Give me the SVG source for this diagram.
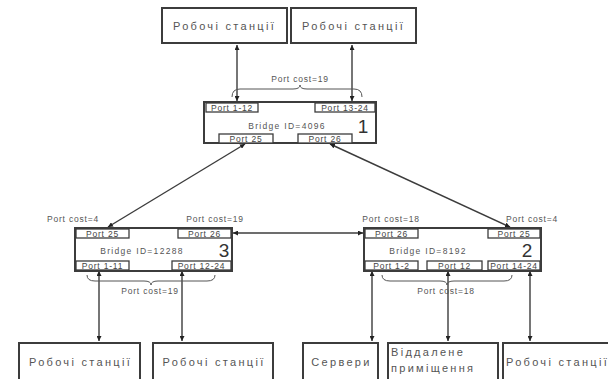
<svg xmlns="http://www.w3.org/2000/svg" width="608" height="379" viewBox="0 0 608 379">
  <style>
    .box { fill: #fff; stroke: #3c3c3c; stroke-width: 2; }
    .port { fill: #fff; stroke: #3c3c3c; stroke-width: 1.3; }
    .lbl { font-family: "Liberation Sans", Arial, sans-serif; font-size: 11px; letter-spacing: 2.3px; fill: #555; }
    .pt { font-family: "Liberation Sans", Arial, sans-serif; font-size: 8.5px; letter-spacing: 0.8px; fill: #444; text-anchor: middle; }
    .bid { font-family: "Liberation Sans", Arial, sans-serif; font-size: 8.5px; letter-spacing: 1.3px; fill: #555; text-anchor: middle; }
    .num { font-family: "Liberation Sans", Arial, sans-serif; font-size: 19px; fill: #333; text-anchor: middle; }
    .cost { font-family: "Liberation Sans", Arial, sans-serif; font-size: 8.5px; letter-spacing: 0.8px; fill: #555; text-anchor: middle; }
    .wire { fill: none; stroke: #3c3c3c; stroke-width: 1.4; marker-start: url(#ah); marker-end: url(#ah); }
    .brace { fill: none; stroke: #555; stroke-width: 1; }
  </style>
  <defs>
    <marker id="ah" viewBox="0 0 10 10" refX="10" refY="5" markerWidth="5" markerHeight="5" orient="auto-start-reverse" markerUnits="userSpaceOnUse">
      <path d="M0,0 L10,5 L0,10 z" fill="#222"/>
    </marker>
  </defs>

  <rect width="608" height="379" fill="#fff"/>

  <!-- connectors -->
  <g id="connectors">
    <line class="wire" x1="237" y1="45" x2="237" y2="101"/>
    <line class="wire" x1="352" y1="45" x2="352" y2="101"/>
    <line class="wire" x1="245" y1="144" x2="108" y2="227"/>
    <line class="wire" x1="330" y1="144" x2="510" y2="227"/>
    <line class="wire" x1="233" y1="233" x2="363" y2="233"/>
    <line class="wire" x1="99" y1="271" x2="99" y2="341"/>
    <line class="wire" x1="182" y1="271" x2="182" y2="341"/>
    <line class="wire" x1="372" y1="271" x2="372" y2="341"/>
    <line class="wire" x1="448" y1="271" x2="448" y2="341"/>
    <line class="wire" x1="530" y1="271" x2="530" y2="341"/>
  </g>

  <!-- port cost annotations -->
  <g id="costs">
    <path class="brace" d="M232,97 Q232,89 240,89 L293,89 Q300,89 300,85 Q300,89 307,89 L354,89 Q362,89 362,97"/>
    <text class="cost" x="300" y="82">Port cost=19</text>

    <path class="brace" d="M87,275 Q87,281 95,281 L144,281 Q151,281 151,285 Q151,281 158,281 L207,281 Q215,281 215,275"/>
    <text class="cost" x="150" y="294">Port cost=19</text>
    <text class="cost" x="73" y="222">Port cost=4</text>
    <text class="cost" x="215" y="222">Port cost=19</text>

    <path class="brace" d="M382,275 Q382,281 390,281 L440,281 Q447,281 447,285 Q447,281 454,281 L504,281 Q512,281 512,275"/>
    <text class="cost" x="446" y="294">Port cost=18</text>
    <text class="cost" x="391" y="222">Port cost=18</text>
    <text class="cost" x="532" y="222">Port cost=4</text>
  </g>

  <!-- workstation groups at the top -->
  <g id="ws-top-left">
    <rect class="box" x="162" y="8" width="125" height="35"/>
    <text class="lbl" x="224.5" y="30" text-anchor="middle">Робочі станції</text>
  </g>
  <g id="ws-top-right">
    <rect class="box" x="291" y="8" width="125" height="35"/>
    <text class="lbl" x="353.5" y="30" text-anchor="middle">Робочі станції</text>
  </g>

  <!-- bridge 1 (root) -->
  <g id="bridge-1">
    <rect class="box" x="204" y="102" width="172" height="41"/>
    <rect class="port" x="206" y="103" width="52" height="9"/>
    <text class="pt" x="232" y="110.5">Port 1-12</text>
    <rect class="port" x="315" y="103" width="60" height="9"/>
    <text class="pt" x="345" y="110.5">Port 13-24</text>
    <rect class="port" x="219" y="134" width="54" height="9"/>
    <text class="pt" x="246" y="141.5">Port 25</text>
    <rect class="port" x="298" y="134" width="54" height="9"/>
    <text class="pt" x="325" y="141.5">Port 26</text>
    <text class="bid" x="287" y="129">Bridge ID=4096</text>
    <text class="num" x="363" y="133">1</text>
  </g>

  <!-- bridge 3 -->
  <g id="bridge-3">
    <rect class="box" x="75" y="228" width="157" height="43"/>
    <rect class="port" x="76" y="229" width="53" height="9"/>
    <text class="pt" x="102.5" y="236.5">Port 25</text>
    <rect class="port" x="178" y="229" width="53" height="9"/>
    <text class="pt" x="204.5" y="236.5">Port 26</text>
    <rect class="port" x="76" y="261" width="53" height="9"/>
    <text class="pt" x="102.5" y="268.5">Port 1-11</text>
    <rect class="port" x="172" y="261" width="59" height="9"/>
    <text class="pt" x="201.5" y="268.5">Port 12-24</text>
    <text class="bid" x="142" y="254">Bridge ID=12288</text>
    <text class="num" x="224" y="257">3</text>
  </g>

  <!-- bridge 2 -->
  <g id="bridge-2">
    <rect class="box" x="364" y="228" width="177" height="43"/>
    <rect class="port" x="365" y="229" width="53" height="9"/>
    <text class="pt" x="391.5" y="236.5">Port 26</text>
    <rect class="port" x="488" y="229" width="52" height="9"/>
    <text class="pt" x="514" y="236.5">Port 25</text>
    <rect class="port" x="365" y="261" width="53" height="9"/>
    <text class="pt" x="391.5" y="268.5">Port 1-2</text>
    <rect class="port" x="427" y="261" width="55" height="9"/>
    <text class="pt" x="454.5" y="268.5">Port 12</text>
    <rect class="port" x="488" y="261" width="52" height="9"/>
    <text class="pt" x="514" y="268.5">Port 14-24</text>
    <text class="bid" x="428" y="254">Bridge ID=8192</text>
    <text class="num" x="527" y="257">2</text>
  </g>

  <!-- end devices at the bottom -->
  <g id="ws-bottom-1">
    <rect class="box" x="19" y="343" width="121" height="42"/>
    <text class="lbl" x="80.5" y="366" text-anchor="middle">Робочі станції</text>
  </g>
  <g id="ws-bottom-2">
    <rect class="box" x="153" y="343" width="120" height="42"/>
    <text class="lbl" x="214" y="366" text-anchor="middle">Робочі станції</text>
  </g>
  <g id="servers">
    <rect class="box" x="303" y="343" width="75" height="42"/>
    <text class="lbl" x="341.5" y="366" text-anchor="middle">Сервери</text>
  </g>
  <g id="remote-room">
    <rect class="box" x="388" y="343" width="110" height="42"/>
    <text class="lbl" x="391" y="356">Віддалене</text>
    <text class="lbl" x="391" y="372">приміщення</text>
  </g>
  <g id="ws-bottom-3">
    <rect class="box" x="503" y="343" width="120" height="42"/>
    <text class="lbl" x="506" y="366">Робочі станції</text>
  </g>
</svg>
